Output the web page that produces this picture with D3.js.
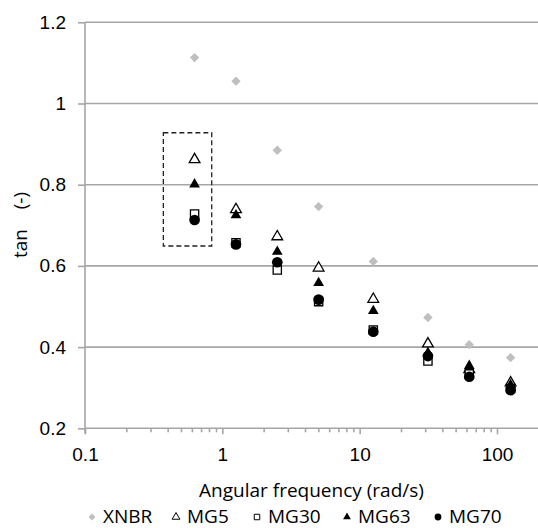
<!DOCTYPE html>
<html>
<head>
<meta charset="utf-8">
<script src="https://cdn.jsdelivr.net/npm/d3@7"></script>
<style>
  body { margin: 0; background: #fff; }
  svg { display: block; font-family: "Open Sans", sans-serif; }
  .axis text { font-size: 19px; fill: #000; }
  .axis path, .axis line { stroke: #a6a6a6; stroke-width: 1.6px; }
</style>
</head>
<body>
<div class="layout"></div>
<script>
var freq = [0.628, 1.257, 2.513, 5.027, 12.57, 31.42, 62.83, 125.7];

var xnbr = [1.113, 1.055, 0.885, 0.746, 0.611, 0.473, 0.406, 0.374];
var mg5  = [0.862, 0.739, 0.672, 0.595, 0.518, 0.408, 0.345, 0.312];
var mg30 = [0.728, 0.657, 0.590, 0.512, 0.442, 0.366, 0.334, 0.298];
var mg63 = [0.801, 0.725, 0.635, 0.558, 0.489, 0.386, 0.354, 0.307];
var mg70 = [0.713, 0.653, 0.609, 0.517, 0.438, 0.378, 0.327, 0.294];

var yTicks = [0.2, 0.4, 0.6, 0.8, 1, 1.2];
var xTicks = [0.1, 1, 10, 100];
var xTickLabels = ["0.1", "1", "10", "100"];

// the dashed box around the lowest frequency, in data units
var boxX = [0.372, 0.837];
var boxY = [0.649, 0.928];

var series = [
    {name: "XNBR", values: xnbr, shape: "diamond", fill: "#bfbfbf", stroke: "none"},
    {name: "MG5", values: mg5, shape: "triangle", fill: "#fff", stroke: "#000"},
    {name: "MG30", values: mg30, shape: "square", fill: "#fff", stroke: "#000"},
    {name: "MG63", values: mg63, shape: "triangle", fill: "#000", stroke: "none"},
    {name: "MG70", values: mg70, shape: "circle", fill: "#000", stroke: "none"}
];

var width = 538, height = 528;

var x = d3.scaleLog()
        .domain([0.1, 1000])
        .range([85, 634.3]);

var y = d3.scaleLinear()
        .domain([0.2, 1.2])
        .range([428.3, 22.3]);

var svg = d3.select(".layout").append("svg")
        .attr("width", width)
        .attr("height", height);

// horizontal gridlines
svg.append("g")
        .selectAll("line")
        .data(yTicks)
        .enter().append("line")
        .attr("x1", 85).attr("x2", width)
        .attr("y1", function(d) { return y(d); })
        .attr("y2", function(d) { return y(d); })
        .attr("stroke", "#a6a6a6")
        .attr("stroke-width", 1.6);

var yAxis = d3.axisLeft(y)
        .tickValues(yTicks)
        .tickSize(7)
        .tickPadding(12)
        .tickFormat(d3.format("~g"));

svg.append("g")
        .attr("class", "y axis")
        .attr("transform", "translate(85,0)")
        .call(yAxis)
        .call(function(g) { g.select(".domain").remove(); });

svg.append("line")
        .attr("x1", 85).attr("x2", 85)
        .attr("y1", y(1.2)).attr("y2", y(0.2) + 5)
        .attr("stroke", "#a6a6a6")
        .attr("stroke-width", 1.6);

// minor ticks on the log axis
var minor = [];
[0.1, 1, 10, 100].forEach(function(dec) {
    for (var k = 2; k <= 9; k++) minor.push(dec * k);
});

svg.append("g")
        .attr("class", "x axis minor")
        .attr("transform", "translate(0," + y(0.2) + ")")
        .call(d3.axisBottom(x).tickValues(minor).tickSize(4).tickFormat(""))
        .call(function(g) { g.select(".domain").remove(); });

var xAxis = d3.axisBottom(x)
        .tickValues(xTicks)
        .tickSize(6)
        .tickPadding(13)
        .tickFormat(function(d, i) { return xTickLabels[i]; });

svg.append("g")
        .attr("class", "x axis")
        .attr("transform", "translate(0," + y(0.2) + ")")
        .call(xAxis)
        .call(function(g) { g.select(".domain").remove(); });

// dashed box
svg.append("rect")
        .attr("x", x(boxX[0]))
        .attr("y", y(boxY[1]))
        .attr("width", x(boxX[1]) - x(boxX[0]))
        .attr("height", y(boxY[0]) - y(boxY[1]))
        .attr("fill", "none")
        .attr("stroke", "#222")
        .attr("stroke-width", 1.3)
        .attr("stroke-dasharray", "5,3");

// diamond drawn as a square turned 45 degrees, as in the original
function symbolFor(shape, size) {
    var t = {diamond: d3.symbolSquare, triangle: d3.symbolTriangle,
             square: d3.symbolSquare, circle: d3.symbolCircle}[shape];
    return d3.symbol().type(t).size(size)();
}

var sizes = {diamond: 44, triangle: 50, square: 68, circle: 90};

series.forEach(function(s) {
    svg.append("g")
            .selectAll("path")
            .data(s.values)
            .enter().append("path")
            .attr("transform", function(d, i) {
                return "translate(" + x(freq[i]) + "," + y(d) + ")" +
                    (s.shape === "diamond" ? " rotate(45)" : "");
            })
            .attr("d", symbolFor(s.shape, sizes[s.shape]))
            .attr("fill", s.fill)
            .attr("stroke", s.stroke)
            .attr("stroke-width", 1.3);
});

// axis titles
svg.append("text")
        .attr("x", 311.5)
        .attr("y", 497)
        .attr("text-anchor", "middle")
        .style("font-size", "19px")
        .text("Angular frequency (rad/s)");

svg.append("text")
        .attr("transform", "translate(27,225) rotate(-90)")
        .attr("text-anchor", "middle")
        .style("font-size", "19px")
        .style("white-space", "pre")
        .text("tan    (-)");

// legend
var legendX = [92, 176, 257, 347, 438];
var legendSizes = {diamond: 24, triangle: 26, square: 30, circle: 36};

var legend = svg.append("g")
        .selectAll("g")
        .data(series)
        .enter().append("g")
        .attr("transform", function(d, i) { return "translate(" + legendX[i] + ",517)"; });

legend.append("path")
        .attr("d", function(d) { return symbolFor(d.shape, legendSizes[d.shape]); })
        .attr("transform", function(d) { return d.shape === "diamond" ? "rotate(45)" : null; })
        .attr("fill", function(d) { return d.fill; })
        .attr("stroke", function(d) { return d.stroke; })
        .attr("stroke-width", 1);

legend.append("text")
        .attr("x", 11)
        .attr("y", 6)
        .style("font-size", "19px")
        .text(function(d) { return d.name; });
</script>
</body>
</html>
